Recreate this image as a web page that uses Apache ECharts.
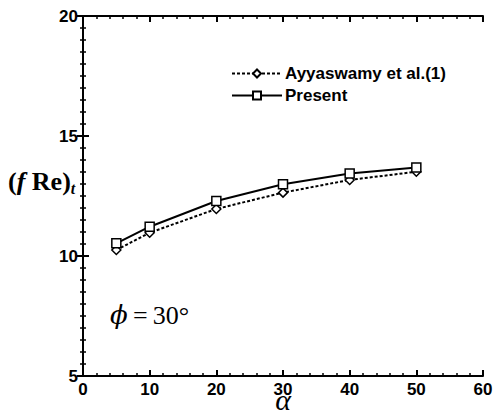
<!DOCTYPE html>
<html>
<head>
<meta charset="utf-8">
<script src="https://cdn.jsdelivr.net/npm/echarts@6/dist/echarts.min.js"></script>
<style>
  html, body { margin: 0; padding: 0; background: #fff; }
  #chart { width: 493px; height: 418px; }
</style>
</head>
<body>
<div id="chart"></div>
<script>
// values
const alphaValues = [5, 10, 20, 30, 40, 50];
const ayyaswamy = [10.25, 10.97, 11.96, 12.64, 13.17, 13.51];
const present = [10.53, 11.22, 12.29, 12.99, 13.44, 13.69];
const seriesNames = ['Ayyaswamy et al.(1)', 'Present'];
const xTicks = { min: 0, max: 60, interval: 10 };
const yTicks = { min: 5, max: 20, interval: 5 };

const toPairs = (ys) => alphaValues.map((a, i) => [a, ys[i]]);

const chart = echarts.init(document.getElementById('chart'), null, { renderer: 'svg' });

const axisFont = { color: '#000', fontSize: 17, fontWeight: 'bold', fontFamily: 'Liberation Sans, Arial' };
const serif = 'Liberation Serif, Times New Roman';
const frameLine = { show: true, lineStyle: { color: '#000', width: 2 } };
const ticks = { show: true, inside: true, length: 6, lineStyle: { color: '#000', width: 2 } };
const minor = (n) => ({ show: true, splitNumber: n, length: 3, lineStyle: { color: '#000', width: 1.5 } });

chart.setOption({
  animation: false,
  grid: { left: 83, right: 10, top: 16, bottom: 42, outerBoundsMode: 'none', containLabel: false },
  legend: {
    orient: 'vertical',
    left: 226,
    top: 60,
    itemWidth: 50,
    itemHeight: 10,
    itemGap: 5,
    data: seriesNames,
    textStyle: { color: '#000', fontSize: 17, fontWeight: 'bold', fontFamily: 'Liberation Sans, Arial', padding: [0, 0, 0, -2] }
  },
  xAxis: [
    {
      type: 'value', ...xTicks,
      name: 'α', nameLocation: 'middle', nameGap: 10, nameMoveOverlap: false,
      nameTextStyle: { color: '#000', fontSize: 30, fontStyle: 'italic', fontFamily: serif, lineHeight: 26 },
      axisLine: frameLine, axisTick: ticks, minorTick: minor(5),
      splitLine: { show: false },
      axisLabel: { ...axisFont, margin: 5 }
    },
    {
      type: 'value', ...xTicks, position: 'top',
      axisLine: frameLine, axisTick: ticks, minorTick: minor(5),
      splitLine: { show: false }, axisLabel: { show: false }
    }
  ],
  yAxis: [
    {
      type: 'value', ...yTicks,
      axisLine: frameLine, axisTick: ticks, minorTick: minor(10),
      splitLine: { show: false },
      axisLabel: { ...axisFont, margin: 5 }
    },
    {
      type: 'value', ...yTicks, position: 'right',
      axisLine: frameLine, axisTick: ticks, minorTick: minor(10),
      splitLine: { show: false }, axisLabel: { show: false }
    }
  ],
  graphic: [
    {
      type: 'text', left: 8, top: 168,
      style: {
        text: '{p|(}{f|f}{p| Re)}{s|t}',
        rich: {
          p: { fontSize: 26, fontWeight: 'bold', fontFamily: serif, fill: '#000' },
          f: { fontSize: 26, fontStyle: 'italic', fontWeight: 'bold', fontFamily: serif, fill: '#000' },
          s: { fontSize: 16, fontStyle: 'italic', fontWeight: 'bold', fontFamily: serif, fill: '#000', padding: [14, 0, 0, 0] }
        }
      }
    },
    {
      type: 'text', left: 110, top: 302,
      style: {
        text: '{a|ϕ}{b|\u2009=\u200930°}',
        rich: {
          a: { fontSize: 26, fontStyle: 'italic', fontFamily: 'DejaVu Serif', fill: '#000' },
          b: { fontSize: 26, fontFamily: serif, fill: '#000' }
        }
      }
    }
  ],
  series: [
    {
      name: seriesNames[0],
      type: 'line',
      data: toPairs(ayyaswamy),
      symbol: 'diamond',
      symbolSize: [9, 9],
      lineStyle: { color: '#000', width: 2, type: [3, 2] },
      itemStyle: { color: '#fff', borderColor: '#000', borderWidth: 1.5 },
      z: 2
    },
    {
      name: seriesNames[1],
      type: 'line',
      data: toPairs(present),
      symbol: 'rect',
      symbolSize: [9, 9],
      lineStyle: { color: '#000', width: 2 },
      itemStyle: { color: '#fff', borderColor: '#000', borderWidth: 1.5 },
      z: 3
    }
  ]
});
</script>
</body>
</html>
